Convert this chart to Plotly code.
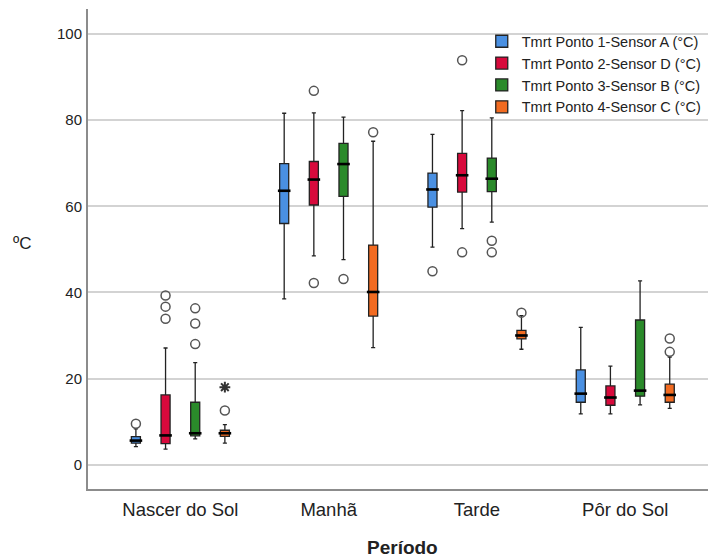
import plotly.graph_objects as go

categories = ["Nascer do Sol", "Manhã", "Tarde", "Pôr do Sol"]
series_names = [
    "Tmrt Ponto 1-Sensor A (°C)",
    "Tmrt Ponto 2-Sensor D (°C)",
    "Tmrt Ponto 3-Sensor B (°C)",
    "Tmrt Ponto 4-Sensor C (°C)",
]
colors = ["#4A90E2", "#D80A3C", "#2A8A2A", "#F26B21"]

# per series: values for each period
lower_fence = [
    [4.2, 38.5, 50.5, 11.8],
    [3.6, 48.5, 54.8, 11.8],
    [6.0, 47.6, 56.3, 13.9],
    [5.0, 27.2, 26.8, 13.1],
]
q1 = [
    [5.0, 56.0, 59.8, 14.5],
    [4.9, 60.3, 63.3, 13.8],
    [6.7, 62.3, 63.4, 15.9],
    [6.6, 34.5, 29.2, 14.5],
]
median = [
    [5.6, 63.6, 63.9, 16.5],
    [6.8, 66.2, 67.2, 15.6],
    [7.3, 69.8, 66.4, 17.2],
    [7.3, 40.1, 30.0, 16.2],
]
q3 = [
    [6.5, 69.9, 67.7, 22.0],
    [16.2, 70.4, 72.3, 18.3],
    [14.5, 74.6, 71.2, 33.6],
    [8.0, 51.0, 31.2, 18.7],
]
upper_fence = [
    [8.3, 81.6, 76.7, 31.9],
    [27.1, 81.7, 82.2, 22.9],
    [23.7, 80.7, 80.5, 42.7],
    [9.3, 75.1, 34.6, 25.0],
]
# outliers: (period index, value)
outliers = [
    [(0, 9.5), (2, 44.9)],
    [(0, 39.3), (0, 36.7), (0, 33.9), (1, 86.8), (1, 42.2), (2, 93.9), (2, 49.3)],
    [(0, 36.3), (0, 32.8), (0, 28.0), (1, 43.1), (2, 52.0), (2, 49.3)],
    [(0, 12.6), (1, 77.2), (2, 35.3), (3, 29.3), (3, 26.2)],
]
extremes = [
    [],
    [],
    [],
    [(0, 18.0)],
]

y_ticks = [0, 20, 40, 60, 80, 100]

FONT = "Liberation Sans, Arial, sans-serif"
n_series = len(series_names)
step = 0.2
box_w = 0.061

fig = go.Figure()
for s in range(n_series):
    off = (s - (n_series - 1) / 2) * step
    xs = [i + off for i in range(len(categories))]
    fig.add_trace(go.Box(
        name=series_names[s],
        x=xs,
        q1=q1[s], median=median[s], q3=q3[s],
        lowerfence=lower_fence[s], upperfence=upper_fence[s],
        width=box_w,
        whiskerwidth=0.45,
        fillcolor=colors[s],
        line=dict(color="#222222", width=1.3),
        boxpoints=False,
        hoverinfo="skip",
        showlegend=True,
    ))
    # thick median bars
    fig.add_trace(go.Scatter(
        x=xs, y=median[s], mode="markers",
        marker=dict(symbol="line-ew", size=9, line=dict(color="black", width=2.6)),
        showlegend=False, hoverinfo="skip",
    ))
    if outliers[s]:
        fig.add_trace(go.Scatter(
            x=[p + off for p, v in outliers[s]],
            y=[v for p, v in outliers[s]],
            mode="markers",
            marker=dict(symbol="circle-open", size=9, color="#555555", line=dict(width=1.5)),
            showlegend=False, hoverinfo="skip",
        ))
    if extremes[s]:
        fig.add_trace(go.Scatter(
            x=[p + off for p, v in extremes[s]],
            y=[v for p, v in extremes[s]],
            mode="markers",
            marker=dict(symbol="asterisk-open", size=9, color="#333333", line=dict(width=2)),
            showlegend=False, hoverinfo="skip",
        ))

fig.update_layout(
    width=708, height=550,
    margin=dict(l=80, r=0, t=1, b=69, autoexpand=False),
    paper_bgcolor="white", plot_bgcolor="white",
    font=dict(family=FONT, color="#222222"),
    showlegend=True,
    legend=dict(
        x=0.627, y=0.966, xanchor="left", yanchor="top",
        bgcolor="rgba(0,0,0,0)",
        font=dict(size=14.5, family=FONT, color="#222222"),
        tracegroupgap=0,
    ),
)
fig.update_xaxes(
    range=[-0.623, 3.612],
    tickmode="array",
    tickvals=list(range(len(categories))),
    ticktext=categories,
    tickfont=dict(size=18.5),
    showgrid=False, zeroline=False,
    showline=True, linecolor="#8c8c8c", linewidth=2,
    ticks="",
    ticklabelstandoff=3,
    automargin=False,
)
fig.update_yaxes(
    range=[-5.64, 105.8],
    tickmode="array",
    tickvals=y_ticks,
    tickfont=dict(size=15),
    showgrid=True, gridcolor="#d3d3d3", gridwidth=1.5,
    zeroline=False,
    showline=True, linecolor="#8c8c8c", linewidth=2,
    ticks="",
    ticklabelstandoff=1,
    automargin=False,
)
fig.add_annotation(
    text="ºC", xref="paper", yref="paper", x=-0.105, y=0.5125,
    xanchor="center", yanchor="middle", showarrow=False,
    font=dict(size=17, family=FONT, color="#222222"),
)
fig.add_annotation(
    text="<b>Período</b>", xref="paper", yref="paper", x=0.5, y=-0.121,
    xanchor="center", yanchor="middle", showarrow=False,
    font=dict(size=19, family=FONT, color="#222222"),
)

fig.write_html("out.html")
